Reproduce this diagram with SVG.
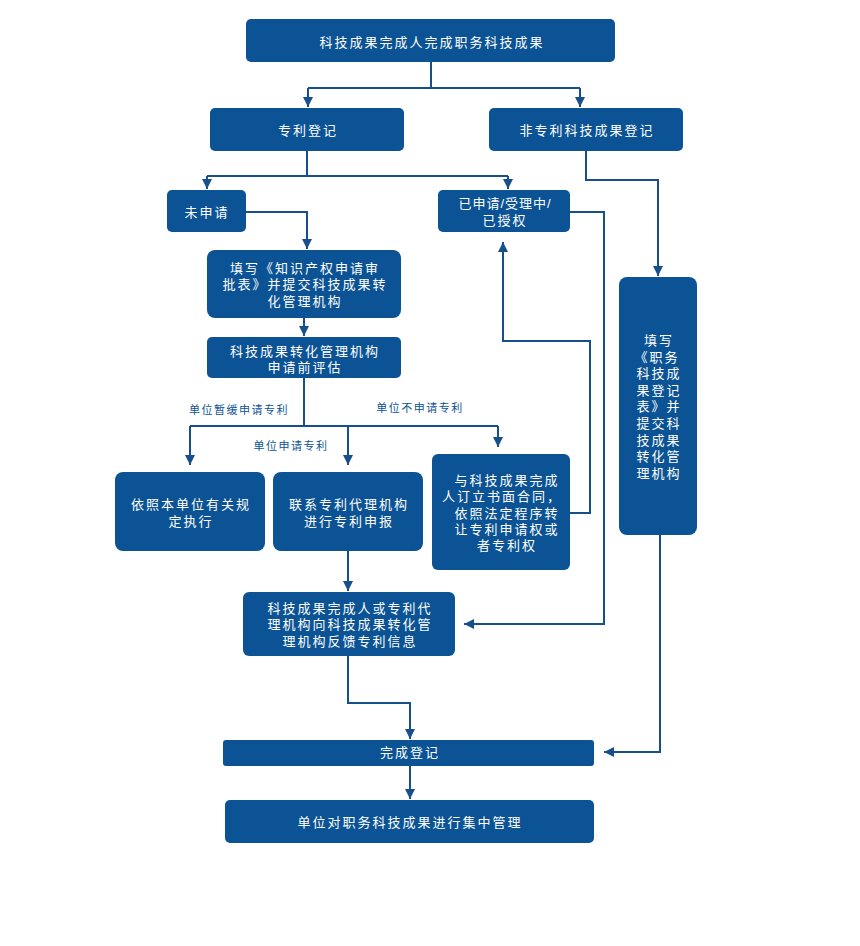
<svg xmlns="http://www.w3.org/2000/svg" width="860" height="946" viewBox="0 0 860 946">
<style>
.n{fill:#0B5394;}
.t{fill:#fff;font-family:"Liberation Sans","Noto Sans CJK SC",sans-serif;font-size:13px;letter-spacing:2px;text-anchor:middle;}
.l{fill:#0B5394;font-family:"Liberation Sans","Noto Sans CJK SC",sans-serif;font-size:11px;letter-spacing:1.5px;text-anchor:middle;}
.c{fill:none;stroke:#174F8C;stroke-width:2;}
</style>
<defs>
<marker id="a" markerUnits="userSpaceOnUse" markerWidth="10" markerHeight="10" refX="10" refY="5" orient="auto">
<path d="M0,0 L10,5 L0,10 z" fill="#174F8C"/>
</marker>
</defs>
<rect width="860" height="946" fill="#fff"/>
<g id="connectors">
<path class="c" d="M431,62 V88 M308,88 H580" />
<path class="c" d="M308,88 V107" marker-end="url(#a)"/>
<path class="c" d="M580,88 V107" marker-end="url(#a)"/>
<path class="c" d="M307,151 V176 M207,176 H508"/>
<path class="c" d="M207,176 V189" marker-end="url(#a)"/>
<path class="c" d="M508,176 V189" marker-end="url(#a)"/>
<path class="c" d="M246,212 H307 V249" marker-end="url(#a)"/>
<path class="c" d="M570,212 H604 V624 H464" marker-end="url(#a)"/>
<path class="c" d="M570,513 H590 V341 H503 V242" marker-end="url(#a)"/>
<path class="c" d="M586,151 V180 H658 V276" marker-end="url(#a)"/>
<path class="c" d="M660,535 V752 H604" marker-end="url(#a)"/>
<path class="c" d="M304,318 V336" marker-end="url(#a)"/>
<path class="c" d="M304,378 V426 M190,426 H498"/>
<path class="c" d="M190,426 V465" marker-end="url(#a)"/>
<path class="c" d="M348,426 V465" marker-end="url(#a)"/>
<path class="c" d="M498,426 V447" marker-end="url(#a)"/>
<path class="c" d="M348,551 V591" marker-end="url(#a)"/>
<path class="c" d="M348,656 V703 H410 V739" marker-end="url(#a)"/>
<path class="c" d="M410,766 V799" marker-end="url(#a)"/>
<text class="l" x="239" y="414">单位暂缓申请专利</text>
<text class="l" x="420" y="412">单位不申请专利</text>
<text class="l" x="291" y="450">单位申请专利</text>
</g>
<g id="n1"><rect class="n" x="246" y="19" width="369" height="43" rx="5"/><text class="t" x="432" y="47">科技成果完成人完成职务科技成果</text></g>
<g id="n2"><rect class="n" x="210" y="108" width="194" height="43" rx="5"/><text class="t" x="308" y="135">专利登记</text></g>
<g id="n3"><rect class="n" x="489" y="108" width="194" height="43" rx="5"/><text class="t" x="587" y="135">非专利科技成果登记</text></g>
<g id="n4"><rect class="n" x="167" y="190" width="79" height="42" rx="5"/><text class="t" x="207" y="217">未申请</text></g>
<g id="n5"><rect class="n" x="438" y="190" width="132" height="42" rx="5"/><text class="t" x="505" y="208" style="letter-spacing:1px">已申请/受理中/</text><text class="t" x="505" y="225">已授权</text></g>
<g id="n6"><rect class="n" x="207" y="250" width="194" height="68" rx="8"/><text class="t" x="305" y="273">填写《知识产权申请审</text><text class="t" x="305" y="289">批表》并提交科技成果转</text><text class="t" x="305" y="306">化管理机构</text></g>
<g id="n7"><rect class="n" x="207" y="337" width="194" height="41" rx="5"/><text class="t" x="305" y="356">科技成果转化管理机构</text><text class="t" x="305" y="372">申请前评估</text></g>
<g id="n8"><rect class="n" x="115" y="472" width="150" height="79" rx="8"/><text class="t" x="191" y="509">依照本单位有关规</text><text class="t" x="191" y="526">定执行</text></g>
<g id="n9"><rect class="n" x="273" y="472" width="150" height="79" rx="8"/><text class="t" x="349" y="509">联系专利代理机构</text><text class="t" x="349" y="526">进行专利申报</text></g>
<g id="n10"><rect class="n" x="432" y="454" width="138" height="116" rx="6"/><text class="t" x="507" y="485">与科技成果完成</text><text class="t" x="502" y="501">人订立书面合同，</text><text class="t" x="507" y="518">依照法定程序转</text><text class="t" x="507" y="534">让专利申请权或</text><text class="t" x="507" y="550">者专利权</text></g>
<g id="n11"><rect class="n" x="243" y="592" width="212" height="64" rx="6"/><text class="t" x="350" y="613">科技成果完成人或专利代</text><text class="t" x="350" y="629">理机构向科技成果转化管</text><text class="t" x="350" y="646">理机构反馈专利信息</text></g>
<g id="n12"><rect class="n" x="619" y="277" width="78" height="258" rx="8"/><text class="t" x="659" y="345">填写</text><text class="t" x="657" y="362">《职务</text><text class="t" x="659" y="378">科技成</text><text class="t" x="659" y="395">果登记</text><text class="t" x="659" y="411">表》并</text><text class="t" x="659" y="428">提交科</text><text class="t" x="659" y="445">技成果</text><text class="t" x="659" y="461">转化管</text><text class="t" x="659" y="478">理机构</text></g>
<g id="n13"><rect class="n" x="223" y="740" width="371" height="26" rx="3"/><text class="t" x="410" y="757">完成登记</text></g>
<g id="n14"><rect class="n" x="225" y="800" width="369" height="43" rx="5"/><text class="t" x="410" y="827">单位对职务科技成果进行集中管理</text></g>
</svg>
